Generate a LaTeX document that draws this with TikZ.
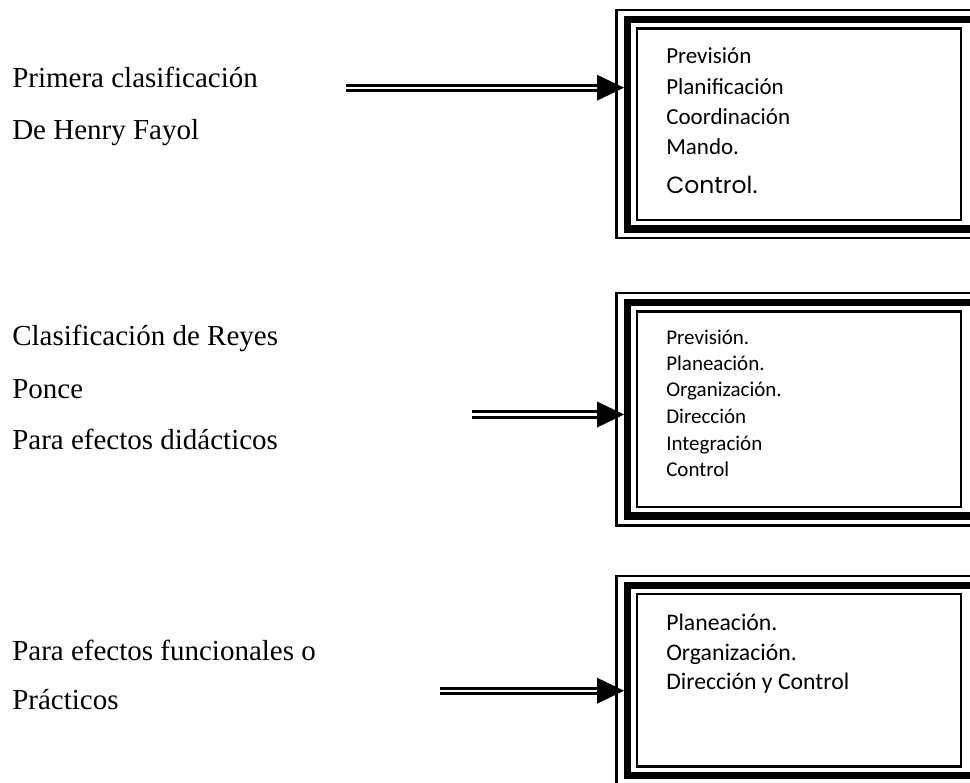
\documentclass[tikz,border=0pt]{standalone}
\usepackage{fontspec}
\setmainfont{Liberation Serif}
\newfontfamily\boxfont{Carlito}
\newfontfamily\gothfont{Poppins}
\usetikzlibrary{calc,fit}

\begin{document}
\begin{tikzpicture}[x=0.75pt,y=-0.75pt,
  lbl/.style={anchor=base west, inner sep=0, font=\fontsize{21.75}{26}\selectfont},
  itemA/.style={anchor=base west, inner sep=0, font=\boxfont\fontsize{17.25}{20}\selectfont},
  itemB/.style={anchor=base west, inner sep=0, font=\boxfont\fontsize{15.75}{19}\selectfont},
  itemC/.style={anchor=base west, inner sep=0, font=\boxfont\fontsize{17.8}{21}\selectfont},
  thinrule/.style={draw, line width=1.7pt},
  thickrule/.style={draw, line width=5.6pt},
  innerframe/.style={draw, line width=1.8pt, inner sep=0, outer sep=0},
  shaft/.style={draw, double, line width=2.2pt, double distance=1.8pt}]

\useasboundingbox (0,0) rectangle (970,782);
\clip (0,0) rectangle (970,782);

% ---- triple-ruled frames (they run off the right edge) ----
\draw[thinrule]  (616.5,10)   rectangle (1000,238);
\draw[thickrule] (627.5,19.5) rectangle (1000,229);
\node[innerframe, fit={(637,28.5) (961,220)}] (box1) {};

\draw[thinrule]  (616.5,293)   rectangle (1000,525.5);
\draw[thickrule] (627.5,302.5) rectangle (1000,516);
\node[innerframe, fit={(637,311.5) (961,507)}] (box2) {};

\draw[thinrule]  (616.5,576)   rectangle (1000,784);
\draw[thickrule] (627.5,585.5) rectangle (1000,775.5);
\node[innerframe, fit={(637,594) (961,766.5)}] (box3) {};

% ---- left-hand labels ----
\node[lbl] (l1a) at (12,87)  {Primera clasificación};
\node[lbl] (l1b) at (12,139) {De Henry Fayol};

\node[lbl] (l2a) at (12,345) {Clasificación de Reyes};
\node[lbl] (l2b) at (12,398) {Ponce};
\node[lbl] (l2c) at (12,449) {Para efectos didácticos};

\node[lbl] (l3a) at (12,660) {Para efectos funcionales o};
\node[lbl] (l3b) at (12,709) {Prácticos};

% ---- box contents ----
\node[itemA] (a1) at (666,63.3) {Previsión};
\node[itemA] (a2) at (666,94.3) {Planificación};
\node[itemA] (a3) at (666,124)  {Coordinación};
\node[itemA] (a4) at (666,154)  {Mando.};
\node[anchor=base west, inner sep=0, font=\gothfont\fontsize{17.6}{21}\selectfont] (a5) at (666,193) {Control.};

\node[itemB] (b1) at (666,344)   {Previsión.};
\node[itemB] (b2) at (666,370.7) {Planeación.};
\node[itemB] (b3) at (666,396.7) {Organización.};
\node[itemB] (b4) at (666,423.3) {Dirección};
\node[itemB] (b5) at (666,450)   {Integración};
\node[itemB] (b6) at (666,476.7) {Control};

\node[itemC] (c1) at (666,630)   {Planeación.};
\node[itemC] (c2) at (666,660)   {Organización.};
\node[itemC] (c3) at (666,689.3) {Dirección y Control};

% ---- double-shaft arrows into the frames ----
\coordinate (s1) at (346,87.7);
\coordinate (s2) at (472,414.5);
\coordinate (s3) at (440,690.7);
\foreach \s/\b in {s1/box1, s2/box2, s3/box3}{
  \draw[shaft] (\s) -- ($(\s -| \b.west)+(-37,0)$);
  \fill ($(\s -| \b.west)+(-40,-13)$) -- ($(\s -| \b.west)+(-13,0)$)
        -- ($(\s -| \b.west)+(-40,13)$) -- cycle;
}
\end{tikzpicture}
\end{document}
